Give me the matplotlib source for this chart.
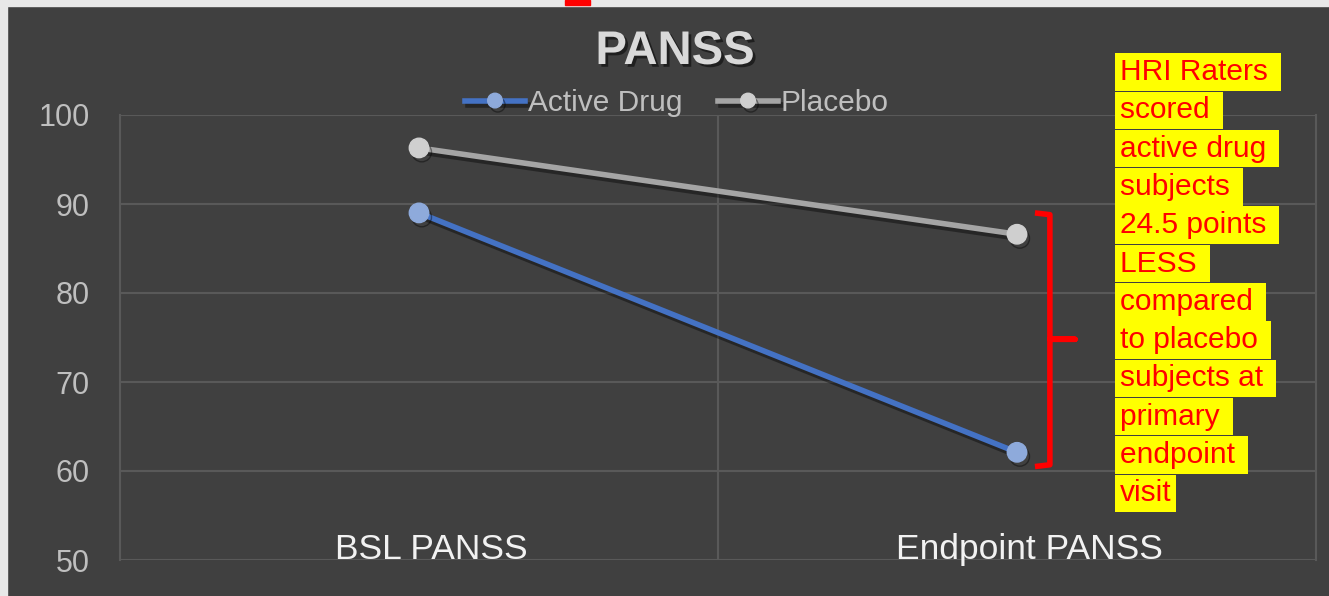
import numpy as np
import matplotlib
matplotlib.use("Agg")
import matplotlib.pyplot as plt
import matplotlib.patheffects as pe
from matplotlib.patches import Rectangle

plt.rcParams['font.family'] = ['Liberation Sans', 'DejaVu Sans']

# data
categories = ['BSL PANSS', 'Endpoint PANSS']
active_drug = [89.0, 62.1]
placebo = [96.3, 86.6]
y_ticks = [50, 60, 70, 80, 90, 100]
note_lines = ['HRI Raters ', 'scored ', 'active drug ', 'subjects ', '24.5 points ',
              'LESS ', 'compared ', 'to placebo ', 'subjects at ', 'primary ',
              'endpoint ', 'visit']

bg = '#404040'
grid_col = '#595959'

fig = plt.figure(figsize=(13.29, 5.96), dpi=100, facecolor=bg)
W, H = 1329, 596

# light border at top/left like the screenshot
fig.patches.append(Rectangle((0, 1 - 6 / H), 1, 6 / H, transform=fig.transFigure,
                             color='#e8e8e8', zorder=0))
fig.patches.append(Rectangle((0, 0), 7 / W, 1, transform=fig.transFigure,
                             color='#e8e8e8', zorder=0))
fig.patches.append(Rectangle((565 / W, 1 - 5 / H), 25 / W, 5 / H, transform=fig.transFigure,
                             color='#ff0000', zorder=1))

ax = fig.add_axes([120 / W, 36 / H, 1196 / W, 445 / H])
ax.set_facecolor(bg)

x = np.arange(len(categories))
shadow = [pe.SimpleLineShadow(offset=(2, -3), shadow_color='black', alpha=0.4), pe.Normal()]

ax.plot(x, placebo, color='#a5a5a5', lw=4, marker='o', ms=14,
        mfc='#cfcfcf', mec='#cfcfcf', label='Placebo', zorder=3, path_effects=shadow)
ax.plot(x, active_drug, color='#4472c4', lw=4, marker='o', ms=14,
        mfc='#8eaadb', mec='#8eaadb', label='Active Drug', zorder=4, path_effects=shadow)

ax.set_xlim(-0.5, 1.5)
ax.set_ylim(50, 100)
ax.set_yticks(y_ticks)
ax.set_xticks([])
ax.tick_params(axis='y', length=0, pad=22, labelsize=22, labelcolor='#bfbfbf')
for yv in y_ticks:
    ax.axhline(yv, color=grid_col, lw=1.5, zorder=1)
ax.axvline(0.5, color=grid_col, lw=1.5, zorder=1)
for s in ['top', 'bottom']:
    ax.spines[s].set_visible(False)
for s in ['left', 'right']:
    ax.spines[s].set_color(grid_col)
    ax.spines[s].set_linewidth(1.5)

for i, c in enumerate(categories):
    ax.text(i + 0.02, 51.2, c, ha='center', va='center', fontsize=25.5, color='#f2f2f2')

# red curly bracket
bx = [1.03, 1.055, 1.055, 1.097, 1.055, 1.055, 1.03]
by = [89.0, 88.8, 74.8, 74.8, 74.8, 60.7, 60.5]
ax.plot(bx, by, color='#ff0000', lw=4, clip_on=False, zorder=5,
        solid_joinstyle='round', solid_capstyle='butt')

# title
fig.text(675 / W, 1 - 52 / H, 'PANSS', ha='center', va='center', fontsize=34,
         fontweight='bold', color='#d9d9d9',
         path_effects=[pe.SimplePatchShadow(offset=(2, -2), shadow_rgbFace='black', alpha=0.5),
                       pe.Normal()])

# legend
handles, labels = ax.get_legend_handles_labels()
leg = fig.legend(handles[::-1], labels[::-1], loc='center', bbox_to_anchor=(677 / W, 1 - 103 / H),
                 ncol=2, frameon=False, fontsize=21.5, handlelength=2.0, handletextpad=0.1,
                 columnspacing=1.2, markerscale=0.75, labelcolor='#bfbfbf')

# highlighted note
for k, line in enumerate(note_lines):
    fig.text(1120 / W, 1 - (72 + k * 38.3) / H, line, ha='left', va='center',
             fontsize=21.5, color='#ff0000',
             bbox=dict(boxstyle='square,pad=0.16', fc='#ffff00', ec='none'))

fig.savefig('out.png', dpi=100, facecolor=bg)
